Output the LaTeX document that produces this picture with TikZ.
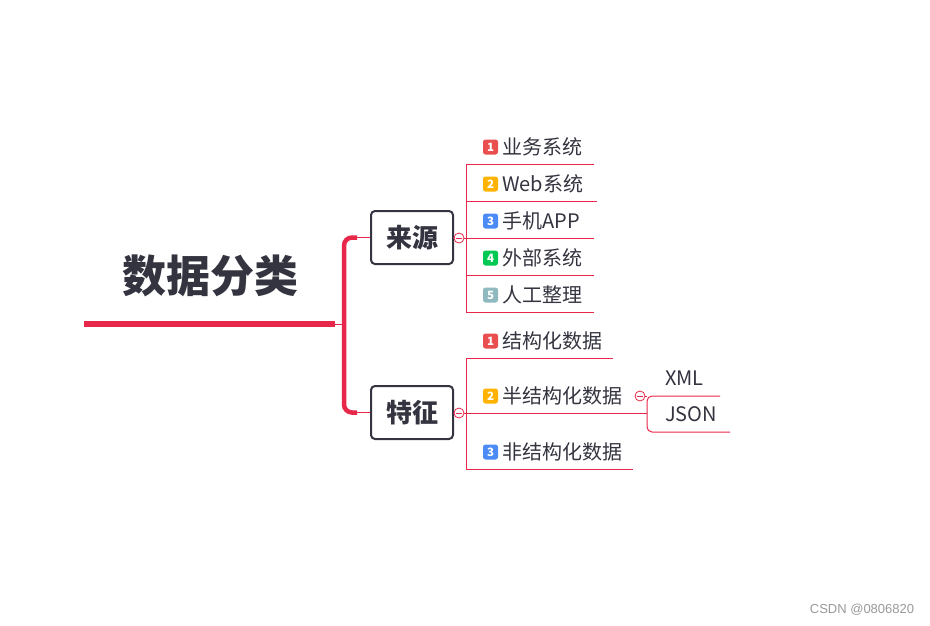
\documentclass[tikz,border=0pt]{standalone}
\usepackage{fontspec}
\setmainfont{Noto Sans CJK SC}
\newfontfamily\wmfont{Liberation Sans}
\definecolor{myred}{HTML}{E8284A}
\definecolor{txt}{HTML}{33343F}
\definecolor{bred}{HTML}{E94F4F}
\definecolor{borange}{HTML}{FFB300}
\definecolor{bblue}{HTML}{4C8BF5}
\definecolor{bgreen}{HTML}{00C853}
\definecolor{bteal}{HTML}{8FB8BF}
\tikzset{
  rline/.style={draw=myred, line width=1pt},
  bracket/.style={draw=myred, line width=4.5pt, rounded corners=8pt},
  topic/.style={draw=txt, line width=2pt, rounded corners=4pt, minimum width=82pt, minimum height=53pt, inner sep=0, text=txt, font=\fontsize{26}{26}\selectfont\bfseries},
  item/.style={anchor=west, inner sep=0, text=txt, font=\fontsize{20}{24}\selectfont},
  badge/.style={fill=#1, rounded corners=2.5pt, minimum size=15pt, inner sep=0, text=white, font=\fontsize{11.5}{11.5}\selectfont\bfseries},
  toggle/.style={circle, draw=myred, fill=white, line width=0.8pt, minimum size=10pt, inner sep=0,
    path picture={\draw[myred, line width=0.8pt] ([xshift=-3pt]path picture bounding box.center) -- ([xshift=3pt]path picture bounding box.center);}}
}
\begin{document}
\begin{tikzpicture}[x=1pt, y=-1pt]
\useasboundingbox (0,0) rectangle (930,625);
% root
\node[inner sep=0, text=txt, font=\fontsize{44}{44}\selectfont\bfseries] (root) at (210,276) {数据分类};
\coordinate (ru1) at (84,324);
\coordinate (ru2) at (335,324);
\coordinate (rb) at (345,324);
\draw[draw=myred, line width=6pt] (ru1) -- (ru2);
\draw[rline] (ru2) -- (rb);
% topics
\node[topic] (A) at (412,237.5) {来源};
\node[topic] (B) at (412,412.5) {特征};
\draw[bracket] ([xshift=-13pt]A.west) -- ([xshift=-26pt]A.west) -- ([xshift=-26pt]B.west) -- ([xshift=-13pt]B.west);
\draw[rline] (A.west) -- ++(-13,0);
\draw[rline] (B.west) -- ++(-13,0);
\node[toggle] (cA) at (459,238) {};
\node[toggle] (cB) at (459,413) {};
\draw[rline] (A.east) -- (cA);
\draw[rline] (B.east) -- (cB);
% source items
\coordinate (s1l) at (466,164); \coordinate (s1r) at (594,164);
\coordinate (s2l) at (466,201); \coordinate (s2r) at (597,201);
\coordinate (s3l) at (466,238); \coordinate (s3r) at (594,238);
\coordinate (s4l) at (466,275); \coordinate (s4r) at (594,275);
\coordinate (s5l) at (466,312); \coordinate (s5r) at (594,312);
\draw[rline] (cA) -- (s3l);
\draw[rline] (s1l) -- (s5l);
\foreach \i in {1,...,5} {\draw[rline] (s\i l) -- (s\i r);}
\node[badge=bred] (b1) at (490.5,147) {1};
\node[item] (t1) at (502,147) {业务系统};
\node[badge=borange] (b2) at (490.5,184) {2};
\node[item] (t2) at (502,184) {Web系统};
\node[badge=bblue] (b3) at (490.5,221) {3};
\node[item] (t3) at (502,221) {手机APP};
\node[badge=bgreen] (b4) at (490.5,258) {4};
\node[item] (t4) at (502,258) {外部系统};
\node[badge=bteal] (b5) at (490.5,295) {5};
\node[item] (t5) at (502,295) {人工整理};
% feature items
\coordinate (f1l) at (466,358); \coordinate (f1r) at (613,358);
\coordinate (f2l) at (466,413); \coordinate (f2r) at (647,413);
\coordinate (f3l) at (466,469); \coordinate (f3r) at (633,469);
\draw[rline] (cB) -- (f2l);
\draw[rline] (f1l) -- (f3l);
\foreach \i in {1,2,3} {\draw[rline] (f\i l) -- (f\i r);}
\node[badge=bred] (g1) at (490.5,341) {1};
\node[item] (u1) at (502,341) {结构化数据};
\node[badge=borange] (g2) at (490.5,396) {2};
\node[item] (u2) at (502,396) {半结构化数据};
\node[badge=bblue] (g3) at (490.5,452) {3};
\node[item] (u3) at (502,452) {非结构化数据};
% sub-branch
\node[toggle] (cC) at (640,396) {};
\coordinate (xr) at (720,396);
\coordinate (jr) at (730,432);
\coordinate (vt) at (647,396);
\coordinate (vb) at (647,432);
\draw[rline, rounded corners=5pt] (xr) -- (vt) -- (vb) -- (jr);
\draw[rline] (cC) -- (vt);
\node[item] (x1) at (665,378) {XML};
\node[item] (x2) at (665,414) {JSON};
% watermark
\node[inner sep=0, text=black!40, font=\wmfont\fontsize{13}{13}\selectfont] (wm) at (862,610) {CSDN @0806820};
\end{tikzpicture}
\end{document}
